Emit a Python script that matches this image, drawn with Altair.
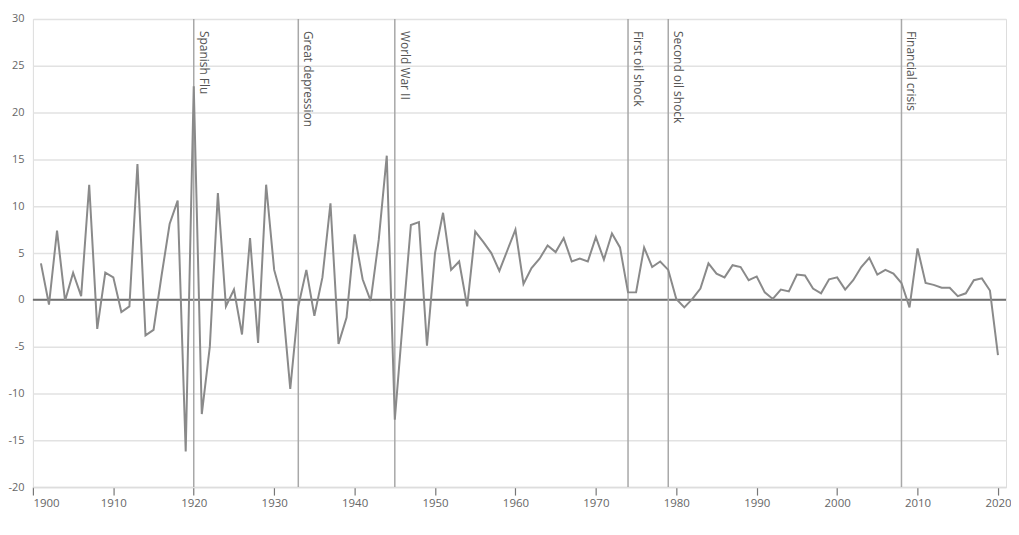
import altair as alt
import pandas as pd

years = list(range(1901, 2021))
growth = [
    3.9, -0.5, 7.4, -0.1, 2.9, 0.4, 12.3, -3.1, 2.9, 2.4,      # 1901-1910
    -1.3, -0.7, 14.5, -3.8, -3.2, 2.6, 8.1, 10.6, -16.2, 22.8, # 1911-1920
    -12.2, -5.0, 11.4, -0.7, 1.1, -3.7, 6.6, -4.6, 12.3, 3.2,  # 1921-1930
    0.1, -9.5, -0.7, 3.2, -1.7, 2.4, 10.3, -4.7, -1.9, 7.0,    # 1931-1940
    2.2, -0.1, 6.4, 15.4, -12.8, -2.2, 8.0, 8.3, -4.9, 5.0,    # 1941-1950
    9.3, 3.2, 4.1, -0.7, 7.3, 6.2, 5.0, 3.1, 5.3, 7.5,         # 1951-1960
    1.7, 3.4, 4.4, 5.8, 5.1, 6.6, 4.1, 4.4, 4.1, 6.7,          # 1961-1970
    4.3, 7.1, 5.6, 0.8, 0.8, 5.6, 3.5, 4.1, 3.2, 0.1,          # 1971-1980
    -0.8, 0.1, 1.2, 3.9, 2.8, 2.4, 3.7, 3.5, 2.1, 2.5,         # 1981-1990
    0.8, 0.1, 1.1, 0.9, 2.7, 2.6, 1.2, 0.7, 2.2, 2.4,          # 1991-2000
    1.1, 2.1, 3.5, 4.5, 2.7, 3.2, 2.8, 1.8, -0.8, 5.5,         # 2001-2010
    1.8, 1.6, 1.3, 1.3, 0.4, 0.7, 2.1, 2.3, 1.0, -5.9,         # 2011-2020
]

event_years = [1920, 1933, 1945, 1974, 1979, 2008]
event_labels = ["Spanish Flu", "Great depression", "World War II",
                "First oil shock", "Second oil shock", "Financial crisis"]

x_ticks = list(range(1900, 2021, 10))
y_ticks = list(range(-20, 31, 5))

df = pd.DataFrame({"year": years, "value": growth})
ev = pd.DataFrame({"year": event_years, "label": event_labels, "top": [30] * len(event_years)})

FONT = "Open Sans"

x_scale = alt.Scale(domain=[1900, 2021], nice=False, zero=False)
y_scale = alt.Scale(domain=[-20, 30], nice=False, zero=False)

x_enc = alt.X("year:Q", scale=x_scale,
              axis=alt.Axis(values=x_ticks, format="d", title=None, grid=False,
                            domain=True, domainColor="#dddddd", domainWidth=1.5,
                            ticks=True, tickColor="#777777", tickSize=8, tickWidth=1.2,
                            labelColor="#666666", labelFontSize=11.5, labelFont=FONT,
                            labelPadding=2))

base_line = alt.Chart(df).mark_line(color="#8a8a8a", strokeWidth=2).encode(
    x=x_enc,
    y=alt.Y("value:Q", scale=y_scale,
            axis=alt.Axis(values=y_ticks, title=None, domain=False, ticks=False,
                          grid=True, gridColor="#e2e2e2", gridWidth=1.5,
                          labelColor="#666666", labelFontSize=11, labelFont=FONT,
                          labelPadding=9, labelExpr="'' + datum.value")),
)

zero = alt.Chart(pd.DataFrame({"v": [0]})).mark_rule(color="#707070", strokeWidth=2).encode(
    y=alt.Y("v:Q", scale=y_scale)
)

events = alt.Chart(ev).mark_rule(color="#a8a8a8", strokeWidth=1.5).encode(
    x=alt.X("year:Q", scale=x_scale)
)

labels = alt.Chart(ev).mark_text(angle=90, align="left", baseline="bottom",
                                 fontSize=12, font=FONT, color="#555555",
                                 dx=12, dy=-3).encode(
    x=alt.X("year:Q", scale=x_scale),
    y=alt.Y("top:Q", scale=y_scale),
    text="label:N",
)

chart = alt.layer(zero, events, base_line, labels).properties(
    width=977, height=470,
    autosize=alt.AutoSizeParams(type="none"),
    padding={"left": 25, "top": 10, "right": 5, "bottom": 35},
).configure_view(stroke=None).configure(background="white")

chart.save("out.html", embed_options={"renderer": "svg", "actions": False})
